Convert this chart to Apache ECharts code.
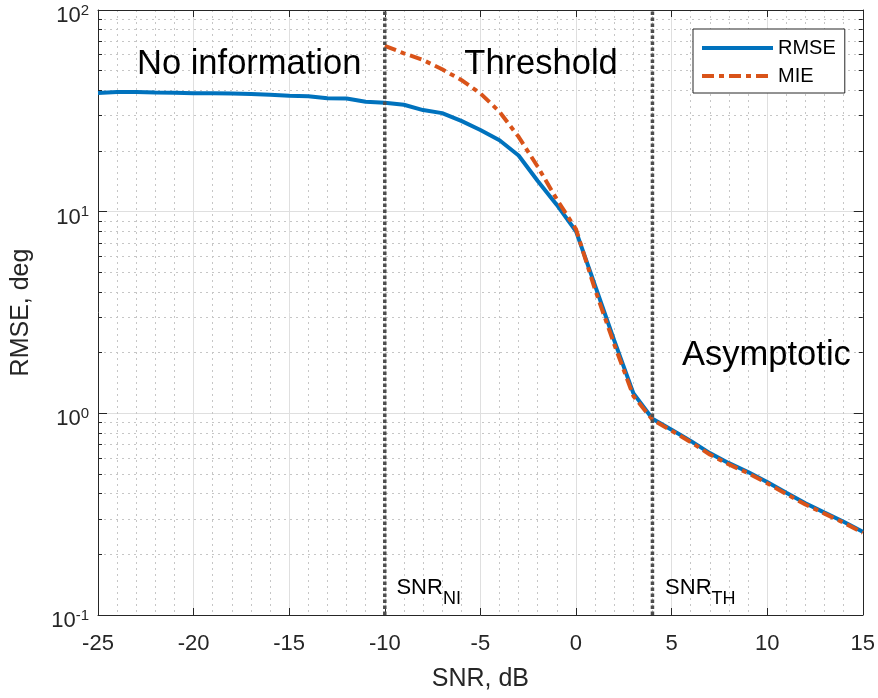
<!DOCTYPE html>
<html><head><meta charset="utf-8">
<script src="https://cdn.jsdelivr.net/npm/echarts@6/dist/echarts.min.js"></script>
<style>html,body{margin:0;padding:0;background:#fff}#c{width:878px;height:698px}</style>
</head><body><div id="c"></div>
<script>
// ---- data ----
const snr = [-25,-24,-23,-22,-21,-20,-19,-18,-17,-16,-15,-14,-13,-12,-11,-10,-9,-8,-7,-6,-5,-4,-3,-2,-1,0,1,2,3,4,5,6,7,8,9,10,11,12,13,14,15];
const rmse = [38.8,39.2,39.2,39.0,38.9,38.7,38.6,38.5,38.3,38.0,37.6,37.4,36.5,36.4,35.1,34.7,33.9,31.9,30.8,28.2,25.4,22.6,19.0,14.2,10.8,8.0,4.3,2.3,1.26,0.94,0.83,0.73,0.635,0.566,0.512,0.457,0.404,0.358,0.322,0.290,0.259];
const mieSnr = [-10,-9,-8,-7,-6,-5,-4,-3,-2,-1,0,1,2,3,4,5,6,7,8,9,10,11,12,13,14,15];
const mie = [66.4,61,56.5,50.8,45,38.6,31.3,23.5,16.7,11.5,8.2,4.1,2.2,1.22,0.93,0.82,0.72,0.625,0.558,0.505,0.45,0.398,0.353,0.318,0.287,0.256];
const regionMarkers = [-10, 4];
const seriesNames = ['RMSE', 'MIE'];
const xRange = [-25, 15], xStep = 5;
const yRange = [0.1, 100];
// annotations: [text, x, y(data)]
const regionTexts = [['No information', -22.96, 53.7], ['Threshold', -5.84, 53.7], ['Asymptotic', 5.55, 1.94]];
const markerTexts = [['SNR', 'NI', -9.39, 0.1545], ['SNR', 'TH', 4.66, 0.1545]];

const FONT = '"Liberation Sans", Arial, Helvetica, sans-serif';
const AX = '#262626';
const chart = echarts.init(document.getElementById('c'), null, {renderer: 'canvas'});

const yLabelFmt = v => '{b|10}{s|' + Math.round(Math.log10(v)) + '}';

const option = {
  animation: false,
  backgroundColor: '#fff',
  textStyle: {fontFamily: FONT},
  grid: {left: 98, top: 10, right: 14, bottom: 83, containLabel: false},
  legend: {
    data: seriesNames, orient: 'vertical', left: 693, top: 29,
    padding: [9, 9, 7, 7], itemGap: 8, itemWidth: 71, itemHeight: 20,
    borderColor: AX, borderWidth: 1, backgroundColor: '#fff',
    textStyle: {fontSize: 20, color: '#000', fontFamily: FONT},
    lineStyle: {width: 4},
    itemStyle: {opacity: 0, borderWidth: 0}
  },
  xAxis: [{
    type: 'value', min: xRange[0], max: xRange[1], interval: xStep, position: 'bottom',
    name: 'SNR, dB', nameLocation: 'middle', nameGap: 52,
    nameTextStyle: {fontSize: 25, color: AX, fontFamily: FONT},
    axisLine: {show: true, onZero: false, lineStyle: {color: AX, width: 1}},
    axisTick: {show: true, inside: true, length: 7, lineStyle: {color: AX}},
    axisLabel: {fontSize: 22, color: AX, margin: 18, fontFamily: FONT},
    splitLine: {show: true, lineStyle: {color: '#dfdfdf', width: 1}},
    minorTick: {show: false, splitNumber: 5},
    minorSplitLine: {show: true, lineStyle: {color: '#c6c6c6', type: [2, 4], width: 1}}
  }, {
    type: 'value', min: xRange[0], max: xRange[1], interval: xStep, position: 'top',
    axisLine: {show: true, onZero: false, lineStyle: {color: AX, width: 1}},
    axisTick: {show: true, inside: true, length: 7, lineStyle: {color: AX}},
    axisLabel: {show: false}, splitLine: {show: false}
  }],
  yAxis: [{
    type: 'log', logBase: 10, min: yRange[0], max: yRange[1], position: 'left',
    name: 'RMSE, deg', nameLocation: 'middle', nameGap: 64, nameRotate: 90,
    nameTextStyle: {fontSize: 25, color: AX, fontFamily: FONT},
    axisLine: {show: true, onZero: false, lineStyle: {color: AX, width: 1}},
    axisTick: {show: true, inside: true, length: 9, lineStyle: {color: AX}},
    minorTick: {show: true, splitNumber: 9, length: 4, lineStyle: {color: AX}},
    axisLabel: {
      formatter: yLabelFmt, margin: 9, padding: [10, 0, 0, 0],
      rich: {
        b: {fontSize: 22, lineHeight: 24, color: AX, fontFamily: FONT, verticalAlign: 'bottom'},
        s: {fontSize: 15, lineHeight: 15, color: AX, fontFamily: FONT, verticalAlign: 'top'}
      }
    },
    splitLine: {show: true, lineStyle: {color: '#dfdfdf', width: 1}},
    minorSplitLine: {show: true, lineStyle: {color: '#c6c6c6', type: [2, 4], width: 1}}
  }, {
    type: 'log', logBase: 10, min: yRange[0], max: yRange[1], position: 'right',
    axisLine: {show: true, onZero: false, lineStyle: {color: AX, width: 1}},
    axisTick: {show: true, inside: true, length: 9, lineStyle: {color: AX}},
    minorTick: {show: true, splitNumber: 9, length: 4, lineStyle: {color: AX}},
    axisLabel: {show: false}, splitLine: {show: false}
  }],
  series: [
    {
      type: 'line', name: seriesNames[0], data: snr.map((x, i) => [x, rmse[i]]),
      symbol: 'none', showSymbol: false, z: 3,
      lineStyle: {color: '#0072BD', width: 4}, itemStyle: {color: '#0072BD'}
    },
    {
      type: 'line', name: seriesNames[1], data: mieSnr.map((x, i) => [x, mie[i]]),
      symbol: 'none', showSymbol: false, z: 4,
      lineStyle: {color: '#D95319', width: 4, type: [12, 5, 5, 5]}, itemStyle: {color: '#D95319'}
    }
  ].concat(regionMarkers.map(m => ({
    type: 'line', name: 'marker' + m, data: [[m, yRange[0]], [m, yRange[1]]],
    symbol: 'none', showSymbol: false, z: 5, silent: true,
    lineStyle: {color: '#4d4d4d', width: 3.5, type: [3.5, 2.5]}
  })))
};
chart.setOption(option);

const graphics = [];
regionTexts.forEach(([t, x, y]) => {
  const p = chart.convertToPixel({xAxisIndex: 0, yAxisIndex: 0}, [x, y]);
  graphics.push({type: 'text', x: p[0], y: p[1], z: 10,
    style: {text: t, fontSize: 34.5, fontFamily: FONT, fill: '#000', align: 'left', verticalAlign: 'middle'}});
});
markerTexts.forEach(([t, sub, x, y]) => {
  const p = chart.convertToPixel({xAxisIndex: 0, yAxisIndex: 0}, [x, y]);
  graphics.push({type: 'text', x: p[0], y: p[1], z: 10,
    style: {text: '{m|' + t + '}{s|' + sub + '}', align: 'left', verticalAlign: 'top',
      rich: {
        m: {fontSize: 22, lineHeight: 22, fontFamily: FONT, fill: '#000', verticalAlign: 'top'},
        s: {fontSize: 18, lineHeight: 18, fontFamily: FONT, fill: '#000', verticalAlign: 'top', padding: [13, 0, 0, 0]}
      }}});
});
chart.setOption({graphic: graphics});
</script></body></html>
